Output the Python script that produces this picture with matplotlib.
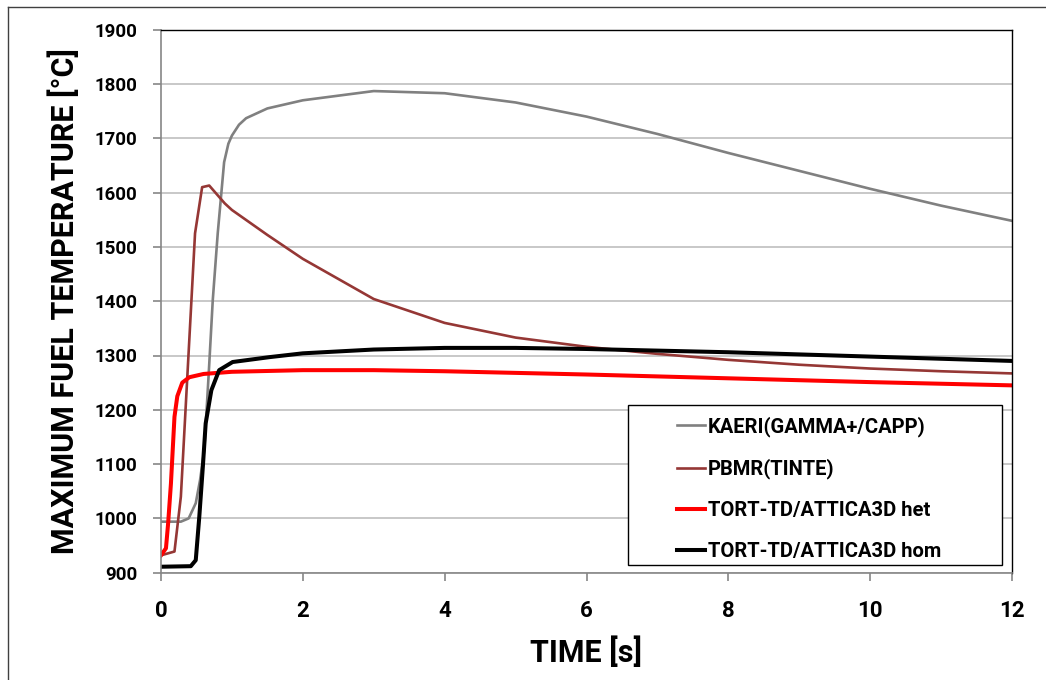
import matplotlib
matplotlib.use('Agg')
import matplotlib.pyplot as plt
from matplotlib.lines import Line2D
from matplotlib.patches import Rectangle

plt.rcParams['font.family'] = ['Roboto', 'DejaVu Sans']
plt.rcParams['font.weight'] = 'bold'

# KAERI (GAMMA+/CAPP)
kaeri_t = [0, 0.28, 0.39, 0.49, 0.55, 0.61, 0.67, 0.73, 0.80, 0.89, 0.95, 1.0, 1.1, 1.2,
           1.5, 2, 3, 4, 5, 6, 7, 8, 9, 10, 11, 12]
kaeri_T = [994, 994, 1000, 1028, 1070, 1126, 1260, 1402, 1525, 1656, 1690, 1705, 1725, 1737,
           1755, 1770, 1787, 1783, 1766, 1740, 1708, 1673, 1640, 1607, 1576, 1548]

# PBMR (TINTE)
pbmr_t = [0, 0.19, 0.28, 0.48, 0.58, 0.68, 0.9, 1.0, 1.5, 2, 3, 4, 5, 6, 7, 8, 9, 10, 11, 12]
pbmr_T = [932, 939, 1040, 1525, 1610, 1613, 1580, 1568, 1522, 1478, 1404, 1360, 1333, 1316,
          1303, 1292, 1283, 1276, 1271, 1267]

# TORT-TD/ATTICA3D het
het_t = [0, 0.07, 0.1, 0.14, 0.19, 0.23, 0.3, 0.4, 0.6, 1, 2, 3, 4, 6, 8, 10, 12]
het_T = [932, 945, 990, 1064, 1187, 1225, 1250, 1260, 1266, 1270, 1273, 1273, 1271, 1265,
         1258, 1251, 1245]

# TORT-TD/ATTICA3D hom
hom_t = [0, 0.42, 0.49, 0.54, 0.59, 0.63, 0.71, 0.82, 1.01, 1.53, 2, 3, 4, 5, 6, 8, 10, 12]
hom_T = [911, 912, 923, 1003, 1095, 1175, 1236, 1273, 1288, 1297, 1304, 1311, 1314, 1314,
         1312, 1306, 1298, 1290]

labels = ['KAERI(GAMMA+/CAPP)', 'PBMR(TINTE)', 'TORT-TD/ATTICA3D het', 'TORT-TD/ATTICA3D hom']

fig = plt.figure(figsize=(10.46, 6.8), dpi=100)
ax = fig.add_axes([161 / 1046, 1 - 572.7 / 680, 851 / 1046, 543 / 680])

ax.plot(kaeri_t, kaeri_T, color='#808080', lw=1.9, label=labels[0])
ax.plot(pbmr_t, pbmr_T, color='#953735', lw=1.9, label=labels[1])
ax.plot(het_t, het_T, color='#ff0000', lw=2.9, label=labels[2])
ax.plot(hom_t, hom_T, color='#000000', lw=2.9, label=labels[3])

ax.set_xlim(0, 12)
ax.set_ylim(900, 1900)
ax.set_xticks(range(0, 13, 2))
ax.set_yticks(range(900, 2000, 100))
ax.yaxis.grid(True, color='#bfbfbf', lw=1.2)
ax.set_axisbelow(True)

for s in ['left', 'bottom']:
    ax.spines[s].set_color('#868686')
    ax.spines[s].set_linewidth(1.2)
for s in ['top', 'right']:
    ax.spines[s].set_color('black')
    ax.spines[s].set_linewidth(1.0)
ax.tick_params(axis='both', direction='out', color='#868686', length=6, width=1.2)
ax.tick_params(axis='x', labelsize=16, pad=14)
ax.tick_params(axis='y', labelsize=13.5, pad=11)
for lab in ax.get_xticklabels() + ax.get_yticklabels():
    lab.set_fontweight('bold')

ax.set_xlabel('TIME [s]', fontsize=22, fontweight='bold', labelpad=10)
ax.set_ylabel('MAXIMUM FUEL TEMPERATURE [°C]', fontsize=22, fontweight='bold', labelpad=10)

# legend box drawn separately, entries indented inside it
ax.add_patch(Rectangle((0.549, 0.014), 0.439, 0.295, transform=ax.transAxes,
                       facecolor='white', edgecolor='black', lw=1.0, zorder=5))
leg = ax.legend(loc='upper left', bbox_to_anchor=(0.606, 0.288), frameon=False,
                handlelength=1.4, handletextpad=0.15, labelspacing=1.08, borderpad=0.0,
                borderaxespad=0.0, prop={'size': 14.5, 'weight': 'bold'})
leg.set_zorder(6)

fig.add_artist(Line2D([8 / 1046, 8 / 1046], [0, 1 - 7 / 680], color='#404040', lw=1.0))
fig.add_artist(Line2D([8 / 1046, 1], [1 - 7 / 680, 1 - 7 / 680], color='#404040', lw=1.0))

fig.savefig('out.png', dpi=100)
